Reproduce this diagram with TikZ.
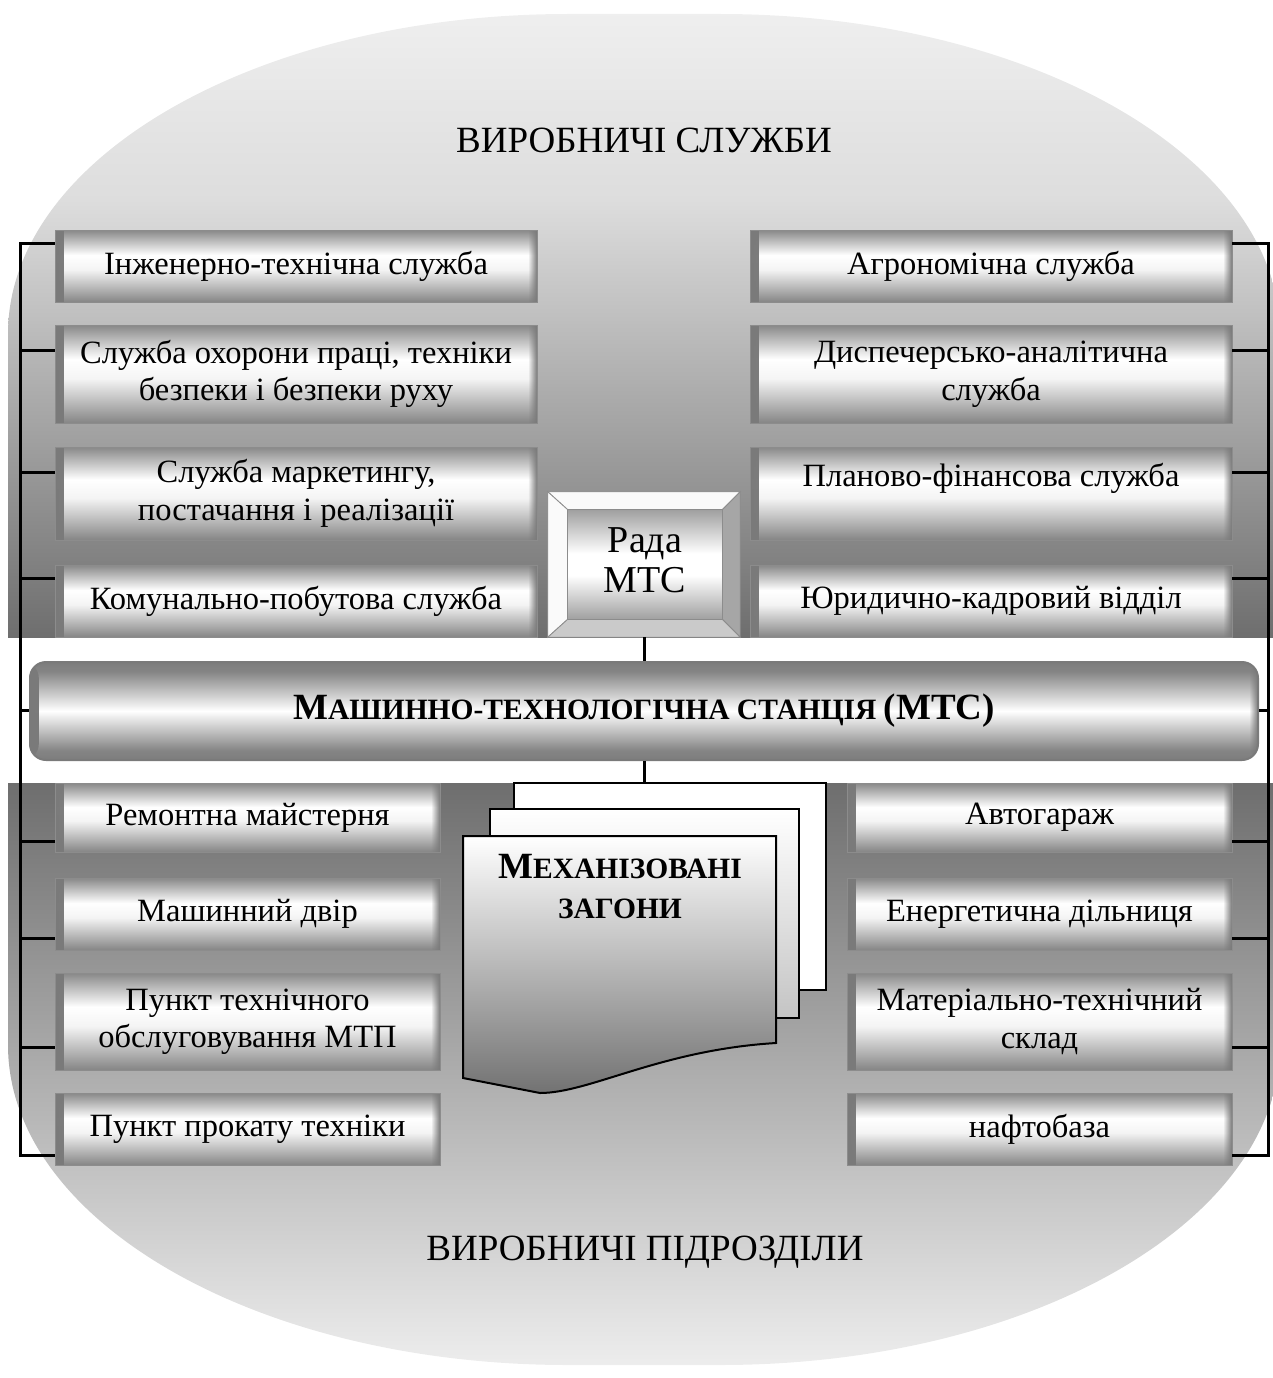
\documentclass[tikz,border=0pt]{standalone}
\usepackage{fontspec}
\setmainfont{Liberation Serif}
\usetikzlibrary{fadings,calc}

\definecolor{bgA}{HTML}{EFEFEF}
\definecolor{bgB}{HTML}{DDDDDD}
\definecolor{bgC}{HTML}{6E6E6E}
\definecolor{bgD}{HTML}{EEEEEE}
\definecolor{boxline}{HTML}{8C8C8C}
\definecolor{endgray}{HTML}{7A7A7A}
\definecolor{gTop}{HTML}{888888}
\definecolor{gBot}{HTML}{858585}
\definecolor{gMidLow}{HTML}{ABABAB}
\definecolor{gNearW}{HTML}{F4F4F4}
\definecolor{mtcEdge}{HTML}{7C7C7C}
\definecolor{mtcLine}{HTML}{7A7A7A}
\definecolor{bevR}{HTML}{A6A6A6}
\definecolor{bevB}{HTML}{CACACA}
\definecolor{bevT}{HTML}{FAFAFA}
\definecolor{innerG}{HTML}{A0A0A0}
\definecolor{pageDark}{HTML}{727272}
\definecolor{pageMid}{HTML}{C4C4C4}

% metallic bar profile: darker edges, bright upper middle
\pgfdeclareverticalshading{barshade}{100bp}{%
  color(0bp)=(gBot); color(25bp)=(gBot); color(32.5bp)=(gMidLow);
  color(47.5bp)=(gNearW); color(57.5bp)=(white); color(75bp)=(gTop);
  color(100bp)=(gTop)}
\pgfdeclareverticalshading{mtcshade}{100bp}{%
  color(0bp)=(mtcEdge); color(25bp)=(mtcEdge); color(30bp)=(gBot);
  color(50bp)=(white); color(70bp)=(gBot); color(75bp)=(mtcEdge);
  color(100bp)=(mtcEdge)}
\pgfdeclareverticalshading{innershade}{100bp}{%
  color(0bp)=(innerG); color(25bp)=(innerG); color(45bp)=(white);
  color(55bp)=(white); color(75bp)=(innerG); color(100bp)=(innerG)}

\newcommand{\boxfont}{\fontsize{32.5}{37.5}\selectfont}
\newcommand{\titlefont}{\fontsize{37}{42}\selectfont}
\newcommand{\radafont}{\fontsize{38}{40}\selectfont}
\newcommand{\capbig}{\fontsize{37}{40}\selectfont}
\newcommand{\capsmall}{\fontsize{29.5}{40}\selectfont}

\tikzset{
  endstrips/.style={path picture={
    \fill[endgray, path fading=east] (path picture bounding box.south west)
      rectangle ([xshift=9pt]path picture bounding box.north west);
    \fill[endgray, path fading=west] (path picture bounding box.south east)
      rectangle ([xshift=-9pt]path picture bounding box.north east);}},
  svc/.style={shade, shading=barshade, draw=boxline, line width=0.8pt,
    inner sep=0pt, align=center, font=\boxfont, endstrips},
  topL/.style={svc, minimum width=482pt},
  topR/.style={svc, minimum width=482pt},
  botS/.style={svc, minimum width=385pt},
  link/.style={line width=3pt, black},
  page/.style={draw=black, line width=2pt, inner sep=0pt},
}

\begin{document}
\begin{tikzpicture}[x=1pt,y=1pt]
\useasboundingbox (0,0) rectangle (1272,-1378);

% rounded backdrop, split into the upper and lower halves
\begin{scope}
  \clip (8,-334) arc[start angle=180, end angle=90, x radius=560pt, y radius=320pt]
    -- (720,-14) arc[start angle=90, end angle=0, x radius=560pt, y radius=320pt]
    -- (1280,-1045) arc[start angle=0, end angle=-90, x radius=560pt, y radius=320pt]
    -- (568,-1365) arc[start angle=-90, end angle=-180, x radius=560pt, y radius=320pt]
    -- cycle;
  \shade[top color=bgA, bottom color=bgB] (0,-10) rectangle (1290,-200.5);
  \shade[top color=bgB, bottom color=bgC] (0,-200) rectangle (1290,-637);
  \shade[top color=bgC, bottom color=bgD] (0,-783) rectangle (1290,-1370);
\end{scope}

% section titles
\node[font=\titlefont] (ttop) at (644,-140) {ВИРОБНИЧІ СЛУЖБИ};
\node[font=\titlefont] (tbot) at (645,-1252) {ВИРОБНИЧІ ПІДРОЗДІЛИ};

% upper services
\node[topL, minimum height=72pt] (L1) at (296,-266) {Інженерно-технічна служба};
\node[topL, minimum height=98pt] (L2) at (296,-374) {Служба охорони праці, техніки\\безпеки і безпеки руху};
\node[topL, minimum height=93pt] (L3) at (296,-493.5) {Служба маркетингу,\\постачання і реалізації};
\node[topL, minimum height=72pt] (L4) at (296,-601) {Комунально-побутова служба};

\node[topR, minimum height=72pt] (R1) at (991,-266) {Агрономічна служба};
\node[topR, minimum height=98pt] (R2) at (991,-374) {Диспечерсько-аналітична\\служба};
\node[topR, minimum height=93pt] (R3) at (991,-493.5) {Планово-фінансова служба\\[-12pt]\strut};
\node[topR, minimum height=72pt] (R4) at (991,-601) {Юридично-кадровий відділ};

% lower units
\node[botS, minimum height=69pt] (B1) at (247.5,-817.5) {Ремонтна майстерня};
\node[botS, minimum height=72pt] (B2) at (247.5,-914) {Машинний двір};
\node[botS, minimum height=97pt] (B3) at (247.5,-1021.5) {Пункт технічного\\обслуговування МТП};
\node[botS, minimum height=72pt] (B4) at (247.5,-1129) {Пункт прокату техніки};

\node[botS, minimum height=69pt] (C1) at (1039.5,-817.5) {Автогараж};
\node[botS, minimum height=72pt] (C2) at (1039.5,-914) {Енергетична дільниця};
\node[botS, minimum height=97pt] (C3) at (1039.5,-1021.5) {Матеріально-технічний\\склад};
\node[botS, minimum height=72pt] (C4) at (1039.5,-1129) {нафтобаза};

% council block with bevelled frame
\node[minimum width=192pt, minimum height=145pt, inner sep=0pt] (rada) at (644,-564.5) {};
\coordinate (ri1) at ($(rada.north west)+(20,-18)$);
\coordinate (ri2) at ($(rada.north east)+(-18,-18)$);
\coordinate (ri3) at ($(rada.south east)+(-18,18)$);
\coordinate (ri4) at ($(rada.south west)+(20,18)$);
\begin{scope}[draw=boxline, line width=0.8pt]
  \filldraw[fill=bevT] (rada.north west) -- (rada.north east) -- (ri2) -- (ri1) -- cycle;
  \filldraw[fill=bevT] (rada.north west) -- (ri1) -- (ri4) -- (rada.south west) -- cycle;
  \filldraw[fill=bevR] (rada.north east) -- (rada.south east) -- (ri3) -- (ri2) -- cycle;
  \filldraw[fill=bevB] (rada.south west) -- (ri4) -- (ri3) -- (rada.south east) -- cycle;
  \shade[shading=innershade, draw=boxline] (ri1) rectangle (ri3);
\end{scope}
\node[font=\radafont, align=center] (radatxt) at ($(ri1)!0.5!(ri3)+(0,4)$) {Рада\\МТС};

% central station bar
\node[shade, shading=mtcshade, draw=mtcLine, line width=2pt, rounded corners=16pt,
      minimum width=1228pt, minimum height=98pt, inner sep=0pt, endstrips] (mtc) at (644,-711)
  {\bfseries\capbig М\capsmall АШИННО-ТЕХНОЛОГІЧНА СТАНЦІЯ \capbig(МТС)};

% stacked field crews
\node[page, fill=white, minimum width=312pt, minimum height=207pt] (pg3) at (670,-886.5) {};
\node[page, top color=white, bottom color=pageMid, minimum width=309pt, minimum height=209pt] (pg2) at (644.5,-913.5) {};
\shade[top color=white, bottom color=pageDark, draw=black, line width=2pt]
  (463,-836) -- (776,-836) -- (776,-1043)
  .. controls (660,-1050) and (590,-1093) .. (540,-1093)
  -- (463,-1078) -- cycle;
\node[font=\bfseries\capsmall, align=center] (crew) at (620,-887)
  {\capbig М\capsmall ЕХАНІЗОВАНІ\\ЗАГОНИ};

% connectors
\draw[link] (rada.south) -- (rada.south |- mtc.north);
\draw[link] (mtc.south) -- (mtc.south |- pg3.north);

\coordinate (lt1) at (20,-243); \coordinate (lt2) at (20,-350);
\coordinate (lt3) at (20,-472); \coordinate (lt4) at (20,-578);
\coordinate (lm)  at (20,-710);
\coordinate (lb1) at (20,-841); \coordinate (lb2) at (20,-938);
\coordinate (lb3) at (20,-1047); \coordinate (lb4) at (20,-1155);

\coordinate (rt1) at (1268,-243); \coordinate (rt2) at (1268,-350);
\coordinate (rt3) at (1268,-472); \coordinate (rt4) at (1268,-578);
\coordinate (rm)  at (1268,-710);
\coordinate (rb1) at (1268,-841); \coordinate (rb2) at (1268,-938);
\coordinate (rb3) at (1268,-1047); \coordinate (rb4) at (1268,-1155);

\draw[link] (lt1 -| L1.west) -- (lt1) -- (lb4) -- (lb4 -| B4.west);
\draw[link] (rt1 -| R1.east) -- (rt1) -- (rb4) -- (rb4 -| C4.east);
\foreach \i in {2,3,4} {
  \draw[link] (lt\i) -- (lt\i -| L\i.west);
  \draw[link] (rt\i) -- (rt\i -| R\i.east);
}
\foreach \i in {1,2,3} {
  \draw[link] (lb\i) -- (lb\i -| B\i.west);
  \draw[link] (rb\i) -- (rb\i -| C\i.east);
}
\draw[link] (lm) -- (lm -| mtc.west);
\draw[link] (rm) -- (rm -| mtc.east);
\end{tikzpicture}
\end{document}
